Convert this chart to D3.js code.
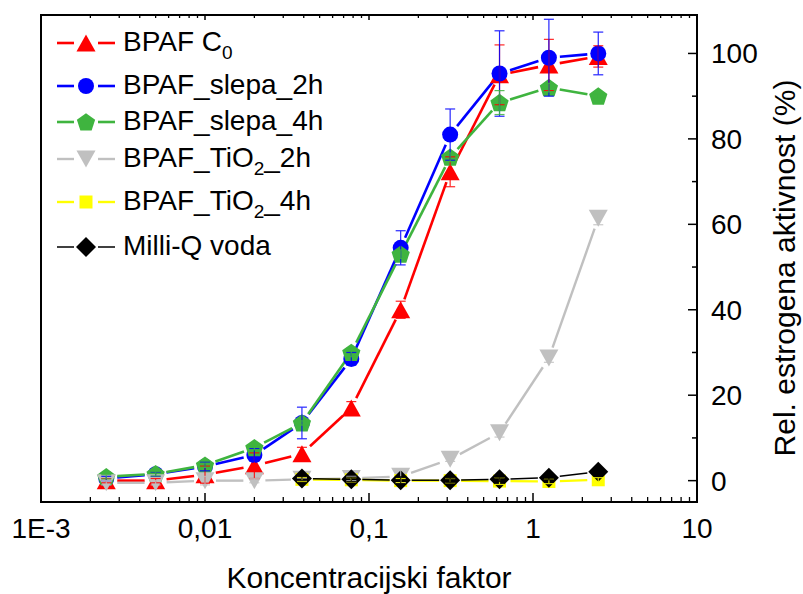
<!DOCTYPE html>
<html>
<head>
<meta charset="utf-8">
<script src="https://cdn.jsdelivr.net/npm/d3@7"></script>
<style>
  html, body { margin: 0; padding: 0; background: #fff; }
  svg { display: block; }
  text { font-family: "Liberation Sans", Arial, sans-serif; fill: #000; }
</style>
</head>
<body>
<svg id="chart" width="803" height="594"></svg>
<script>
// ---------- data ----------
const xFactors = [0.0025, 0.005, 0.01, 0.02, 0.039, 0.078, 0.156, 0.3125, 0.625, 1.25, 2.5];
const xFactorsLate = [0.039, 0.078, 0.156, 0.3125, 0.625, 1.25, 2.5];

const bpafC0      = [0, 0, 1.4, 3.5, 6.3, 17, 40, 72.3, 95, 97.3, 99.3];
const bpafC0Err   = [0.5, 0.5, 2, 3, 1.5, 1.5, 2, 3.5, 7, 6, 2.5];
const slepa2h     = [0.5, 1.5, 3.3, 6, 13.5, 28.5, 54.5, 81, 95.3, 99, 100];
const slepa2hErr  = [0.5, 0.5, 1, 1.5, 3.7, 1.5, 4, 6, 10, 9, 5];
const slepa4h     = [0.9, 1.6, 3.6, 7.7, 13.5, 30, 53, 75.7, 88.5, 92, 90];
const slepa4hErr  = [0.5, 0.5, 0.5, 0.5, 0.5, 1, 1, 1, 2.8, 1, 0.5];
const tio2h       = [-0.5, -0.5, 0, 0, 0.3, 0.5, 1, 5, 11.2, 28.7, 61.4];
const tio2hErr    = [0.5, 0.5, 1, 0.5, 0.3, 0.5, 1.5, 0.5, 1, 1, 1.5];
const tio4h       = [0.3, 0.2, 0, 0, -0.1, -0.2, 0.2];
const tio4hErr    = [0.5, 0.5, 0.5, 0.5, 0.8, 0.5, 0.5];
const milliQ      = [0.5, 0.3, 0.1, 0.1, 0.3, 0.7, 2.1];
const milliQErr   = [0.5, 0.5, 0.8, 0.5, 0.5, 0.5, 0.5];

const xTickValues = [0.001, 0.01, 0.1, 1, 10];
const xTickLabels = ["1E-3", "0,01", "0,1", "1", "10"];
const yTickValues = [0, 20, 40, 60, 80, 100];

const series = [
  { name: ["BPAF C", "0", ""], x: xFactors, y: bpafC0, e: bpafC0Err, color: "#FF0000", shape: "triUp", lw: 2.6 },
  { name: ["BPAF_slepa_2h"], x: xFactors, y: slepa2h, e: slepa2hErr, color: "#0000FF", shape: "circle", lw: 2.6 },
  { name: ["BPAF_slepa_4h"], x: xFactors, y: slepa4h, e: slepa4hErr, color: "#3FB43F", shape: "pentagon", lw: 2.6 },
  { name: ["BPAF_TiO", "2", "_2h"], x: xFactors, y: tio2h, e: tio2hErr, color: "#C0C0C0", shape: "triDown", lw: 2.4 },
  { name: ["BPAF_TiO", "2", "_4h"], x: xFactorsLate, y: tio4h, e: tio4hErr, color: "#FFFF00", shape: "square", lw: 2.4 },
  { name: ["Milli-Q voda"], x: xFactorsLate, y: milliQ, e: milliQErr, color: "#000000", shape: "diamond", lw: 1.5 }
];

// ---------- layout ----------
const svg = d3.select("#chart");
const L = 41, R = 697, T = 15, B = 502;
const x = d3.scaleLog().domain([0.001, 10]).range([L, R]);
const y = d3.scaleLinear().domain([-5, 109]).range([B, T]);

function shapePath(kind) {
  const p = d3.path();
  if (kind === "triUp") {
    const w = 19, h = 17;
    p.moveTo(0, -h / 2); p.lineTo(w / 2, h / 2); p.lineTo(-w / 2, h / 2); p.closePath();
  } else if (kind === "triDown") {
    const w = 19, h = 17;
    p.moveTo(0, h / 2); p.lineTo(w / 2, -h / 2); p.lineTo(-w / 2, -h / 2); p.closePath();
  } else if (kind === "circle") {
    p.arc(0, 0, 8, 0, 2 * Math.PI);
  } else if (kind === "pentagon") {
    const r = 9.6;
    for (let i = 0; i < 5; i++) {
      const a = -Math.PI / 2 + i * 2 * Math.PI / 5;
      const px = r * Math.cos(a), py = r * Math.sin(a) + 0.8;
      if (i === 0) p.moveTo(px, py); else p.lineTo(px, py);
    }
    p.closePath();
  } else if (kind === "square") {
    p.rect(-6.5, -6.5, 13, 13);
  } else if (kind === "diamond") {
    const r = 10;
    p.moveTo(0, -r); p.lineTo(r, 0); p.lineTo(0, r); p.lineTo(-r, 0); p.closePath();
  }
  return p.toString();
}

// ---------- axes ----------
const axisG = svg.append("g");
axisG.append("line").attr("x1", L).attr("x2", R + 1).attr("y1", B).attr("y2", B).attr("stroke", "#000").attr("stroke-width", 2);
axisG.append("line").attr("x1", L).attr("x2", R + 1).attr("y1", T).attr("y2", T).attr("stroke", "#000").attr("stroke-width", 2);
axisG.append("line").attr("x1", L).attr("x2", L).attr("y1", T - 1).attr("y2", B + 1).attr("stroke", "#000").attr("stroke-width", 2);
axisG.append("line").attr("x1", R).attr("x2", R).attr("y1", T - 1).attr("y2", B + 1).attr("stroke", "#000").attr("stroke-width", 2);

const xMinor = [];
for (let dec = -3; dec < 1; dec++) for (let m = 2; m <= 9; m++) xMinor.push(m * Math.pow(10, dec));
const tickG = svg.append("g").attr("stroke", "#000");
xMinor.forEach(v => {
  tickG.append("line").attr("x1", x(v)).attr("x2", x(v)).attr("y1", B).attr("y2", B - 5).attr("stroke-width", 1.3);
  tickG.append("line").attr("x1", x(v)).attr("x2", x(v)).attr("y1", T).attr("y2", T + 3).attr("stroke-width", 1.3);
});
xTickValues.forEach(v => {
  tickG.append("line").attr("x1", x(v)).attr("x2", x(v)).attr("y1", B).attr("y2", B - 9).attr("stroke-width", 1.5);
  tickG.append("line").attr("x1", x(v)).attr("x2", x(v)).attr("y1", T).attr("y2", T + 5).attr("stroke-width", 1.5);
});
d3.range(0, 101, 10).forEach(v => {
  const major = v % 20 === 0;
  tickG.append("line").attr("x1", R).attr("x2", R - (major ? 9 : 5)).attr("y1", y(v)).attr("y2", y(v)).attr("stroke-width", 1.5);
});

svg.append("g").selectAll("text").data(xTickValues).join("text")
  .attr("x", d => x(d)).attr("y", 538).attr("text-anchor", "middle")
  .attr("font-size", 28).text((d, i) => xTickLabels[i]);
svg.append("g").selectAll("text").data(yTickValues).join("text")
  .attr("x", 711).attr("y", d => y(d) + 10).attr("text-anchor", "start")
  .attr("font-size", 28).text(d => d);

svg.append("text").attr("x", (L + R) / 2).attr("y", 588).attr("text-anchor", "middle")
  .attr("font-size", 30).text("Koncentracijski faktor");
svg.append("text").attr("transform", `translate(795, 268) rotate(-90)`)
  .attr("text-anchor", "middle").attr("font-size", 30).text("Rel. estrogena aktivnost (%)");

// ---------- data lines (with gaps around markers) ----------
const plotG = svg.append("g");
const gap = 11;
series.forEach(s => {
  const pts = s.x.map((xv, i) => [x(xv), y(s.y[i])]);
  for (let i = 0; i < pts.length - 1; i++) {
    const [x1, y1] = pts[i], [x2, y2] = pts[i + 1];
    const len = Math.hypot(x2 - x1, y2 - y1);
    if (len <= 2 * gap) continue;
    const ux = (x2 - x1) / len, uy = (y2 - y1) / len;
    plotG.append("line")
      .attr("x1", x1 + ux * gap).attr("y1", y1 + uy * gap)
      .attr("x2", x2 - ux * gap).attr("y2", y2 - uy * gap)
      .attr("stroke", s.color).attr("stroke-width", s.lw);
  }
});
series.forEach(s => {
  plotG.append("g").selectAll("path").data(s.x.map((xv, i) => [xv, s.y[i]])).join("path")
    .attr("d", shapePath(s.shape))
    .attr("transform", d => `translate(${x(d[0])},${y(d[1])})`)
    .attr("fill", s.color);
});
series.forEach(s => {
  const g = plotG.append("g").attr("stroke", s.color).attr("stroke-width", 1.2).attr("opacity", 0.85);
  s.x.forEach((xv, i) => {
    const cx = x(xv), top = y(s.y[i] + s.e[i]), bot = y(s.y[i] - s.e[i]);
    g.append("line").attr("x1", cx).attr("x2", cx).attr("y1", top).attr("y2", bot);
    g.append("line").attr("x1", cx - 5).attr("x2", cx + 5).attr("y1", top).attr("y2", top);
    g.append("line").attr("x1", cx - 5).attr("x2", cx + 5).attr("y1", bot).attr("y2", bot);
  });
});

// ---------- legend ----------
const legendRows = [43, 86, 122, 159, 202, 247];
const leg = svg.append("g");
series.forEach((s, i) => {
  const ly = legendRows[i];
  leg.append("line").attr("x1", 57).attr("x2", 74).attr("y1", ly).attr("y2", ly).attr("stroke", s.color).attr("stroke-width", s.lw);
  leg.append("line").attr("x1", 98).attr("x2", 115).attr("y1", ly).attr("y2", ly).attr("stroke", s.color).attr("stroke-width", s.lw);
  leg.append("path").attr("d", shapePath(s.shape)).attr("transform", `translate(86,${ly})`).attr("fill", s.color);
  const t = leg.append("text").attr("x", 123).attr("y", ly + 8).attr("font-size", 28);
  t.append("tspan").text(s.name[0]);
  if (s.name.length > 1) {
    t.append("tspan").attr("font-size", 19).attr("dy", 8).text(s.name[1]);
    if (s.name[2]) t.append("tspan").attr("dy", -8).text(s.name[2]);
  }
});
</script>
</body>
</html>
